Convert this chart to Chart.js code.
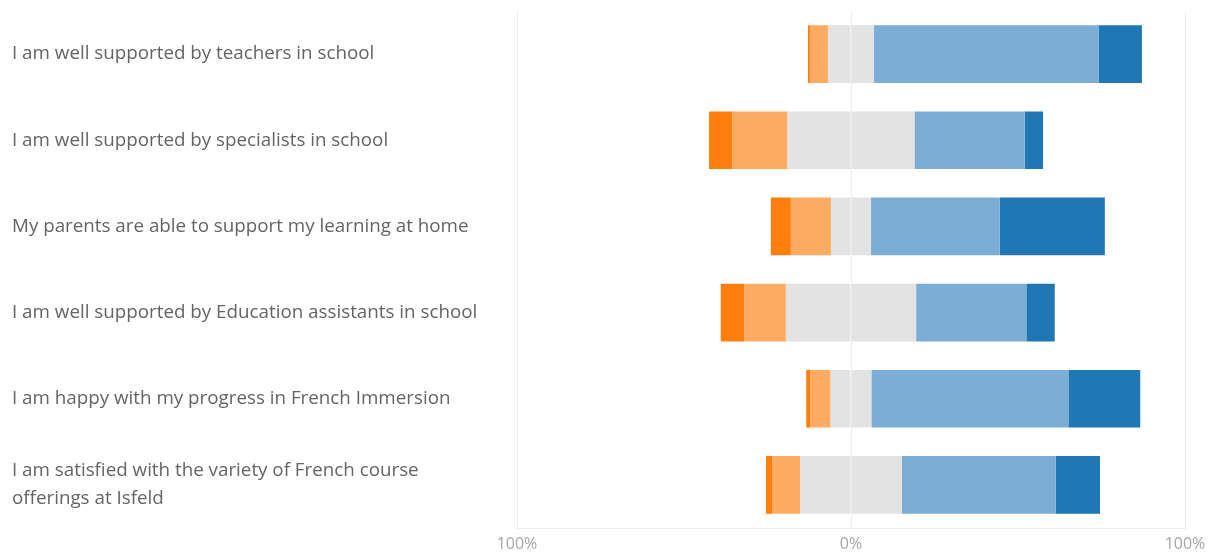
<!DOCTYPE html>
<html>
<head>
<meta charset="utf-8">
<script src="https://cdn.jsdelivr.net/npm/chart.js@4/dist/chart.umd.min.js"></script>
<style>
  html, body { margin: 0; padding: 0; background: #fff; }
  #wrap { width: 1217px; height: 556px; }
</style>
</head>
<body>
<div id="wrap"><canvas id="chart"></canvas></div>
<script>
// =====================================================
// DATA (% of responses per statement)
// =====================================================

const statements = [
  'I am well supported by teachers in school',
  'I am well supported by specialists in school',
  'My parents are able to support my learning at home',
  'I am well supported by Education assistants in school',
  'I am happy with my progress in French Immersion',
  ['I am satisfied with the variety of French course', 'offerings at Isfeld']
]

const stronglyDisagree = [0.6, 7.0, 6.0, 7.0, 1.3, 1.8]
const disagree         = [5.4, 16.5, 12.0, 12.5, 6.0, 8.4]
const neutral          = [13.8, 38.0, 12.0, 39.0, 12.2, 30.5]
const agree            = [67.3, 33.0, 38.5, 33.0, 59.0, 46.0]
const stronglyAgree    = [12.9, 5.5, 31.5, 8.5, 21.5, 13.3]

const xTicks = [-100, 0, 100]

const COLORS = {
  sd: '#ff7f0e',
  d : '#fdab62',
  n : '#e3e3e3',
  a : '#7badd5',
  sa: '#1f77b4'
}

// =====================================================
// CHART
// Neutral is split across 0; disagree side goes negative
// =====================================================

const half = arr => arr.map(v => v / 2)
const neg  = arr => arr.map(v => -v)

const ds = (label, data, color) => ({
  label, data,
  backgroundColor: color,
  borderWidth: 0,
  barPercentage: 0.67,
  categoryPercentage: 1
})

new Chart(document.getElementById('chart').getContext('2d'), {
  type: 'bar',
  data: {
    labels: statements,
    datasets: [
      ds('Neutral', neg(half(neutral)), COLORS.n),
      ds('Neutral', half(neutral), COLORS.n),
      ds('Disagree', neg(disagree), COLORS.d),
      ds('Agree', agree, COLORS.a),
      ds('Strongly disagree', neg(stronglyDisagree), COLORS.sd),
      ds('Strongly agree', stronglyAgree, COLORS.sa)
    ]
  },
  options: {
    indexAxis: 'y',
    responsive: true,
    maintainAspectRatio: false,
    animation: false,
    layout: { padding: { left: 12, right: 32, top: 11, bottom: 0 } },
    plugins: {
      legend: { display: false },
      tooltip: { enabled: false }
    },
    scales: {
      x: {
        stacked: true,
        min: -100,
        max: 100,
        afterBuildTicks: axis => { axis.ticks = xTicks.map(v => ({ value: v })) },
        afterFit: axis => { axis.height = 28 },
        ticks: {
          callback: v => Math.abs(v) + '%',
          font: { family: 'Open Sans', size: 16 },
          color: '#a6a6a6',
          padding: 7,
          maxRotation: 0
        },
        grid: { color: '#eeeeee', drawTicks: false },
        border: { color: '#eeeeee' }
      },
      y: {
        stacked: true,
        afterFit: axis => {
          axis.width = 505
          // labels sit inside their rows, no extra room above/below
          axis.paddingTop = 0
          axis.paddingBottom = 0
        },
        ticks: {
          crossAlign: 'far',
          font: { family: 'Open Sans', size: 18.8, lineHeight: 1.5 },
          color: '#646464'
        },
        grid: { display: false },
        border: { color: '#eeeeee' }
      }
    }
  }
})
</script>
</body>
</html>
